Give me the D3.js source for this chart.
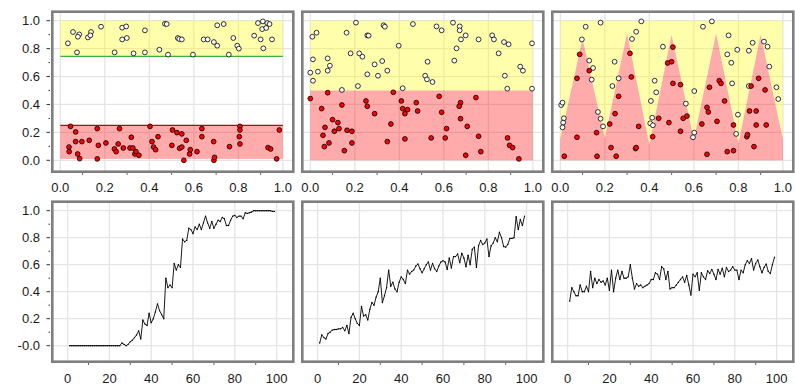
<!DOCTYPE html>
<html>
<head>
<meta charset="utf-8">
<script src="https://cdn.jsdelivr.net/npm/d3@7"></script>
<style>
  body { margin: 0; background: #fff; }
  text { font-family: "Liberation Sans", Arial, sans-serif; font-size: 13px; fill: #1a1a1a; }
</style>
</head>
<body>
<svg id="chart" width="795" height="387"></svg>
<script>
// ---- data ----
const topTicks = [0, 0.2, 0.4, 0.6, 0.8, 1.0];
const topTickLabels = ['0.0', '0.2', '0.4', '0.6', '0.8', '1.0'];
const bottomXTicks = [0, 20, 40, 60, 80, 100];
const bottomXLabels = ['0', '20', '40', '60', '80', '100'];
const yTicks = [0, 0.2, 0.4, 0.6, 0.8, 1.0];
const topYLabels = ['0.0', '0.2', '0.4', '0.6', '0.8', '1.0'];
const bottomYLabels = ['-0.0', '0.2', '0.4', '0.6', '0.8', '1.0'];

// panel 1: two separated clusters
const white1 = [[0.034,0.838],[0.057,0.919],[0.085,0.902],[0.079,0.885],[0.075,0.773],[0.124,0.88],[0.138,0.919],[0.135,0.895],[0.183,0.957],[0.244,0.773],[0.278,0.95],[0.296,0.959],[0.278,0.866],[0.299,0.876],[0.329,0.766],[0.38,0.931],[0.38,0.773],[0.445,0.792],[0.47,0.978],[0.478,0.976],[0.484,0.757],[0.528,0.876],[0.534,0.869],[0.546,0.866],[0.596,0.757],[0.644,0.866],[0.662,0.866],[0.69,0.847],[0.705,0.821],[0.705,0.967],[0.734,0.976],[0.777,0.876],[0.757,0.757],[0.795,0.821],[0.802,0.8],[0.871,0.893],[0.888,0.983],[0.91,0.995],[0.93,0.983],[0.94,0.976],[0.907,0.94],[0.925,0.948],[0.9,0.866],[0.912,0.802],[0.951,0.866]];
const red1 = [[0.046,0.243],[0.039,0.095],[0.04,0.062],[0.069,0.203],[0.069,0.134],[0.078,0.045],[0.087,0.012],[0.097,0.134],[0.13,0.143],[0.166,0.227],[0.171,0.107],[0.166,0.01],[0.205,0.124],[0.243,0.081],[0.251,0.062],[0.26,0.117],[0.266,0.227],[0.283,0.088],[0.313,0.088],[0.326,0.088],[0.319,0.165],[0.335,0.045],[0.34,0.062],[0.353,0.036],[0.403,0.243],[0.412,0.134],[0.419,0.095],[0.428,0.076],[0.439,0.169],[0.501,0.107],[0.504,0.217],[0.524,0.198],[0.536,0.086],[0.546,0.189],[0.546,0.095],[0.566,0.143],[0.555,0.0],[0.581,0.045],[0.584,0.076],[0.614,0.062],[0.636,0.227],[0.636,0.169],[0.689,0.134],[0.69,0.0],[0.693,0.021],[0.76,0.098],[0.807,0.243],[0.807,0.217],[0.804,0.169],[0.807,0.117],[0.972,0.01],[0.933,0.091],[0.945,0.081],[0.984,0.217]];
const yellowBand1 = [0.745, 1.0];
const redBand1 = [0.01, 0.25];
const greenLine1 = 0.745;
const darkRedLine1 = 0.25;

// panel 2: split at 0.5
const white2 = [[0.009,0.885],[0.028,0.914],[0.012,0.723],[0.0,0.628],[0.034,0.635],[0.012,0.57],[0.078,0.73],[0.088,0.678],[0.078,0.642],[0.142,0.504],[0.163,0.914],[0.205,0.986],[0.181,0.766],[0.22,0.766],[0.234,0.742],[0.214,0.532],[0.256,0.895],[0.262,0.893],[0.256,0.616],[0.289,0.687],[0.304,0.606],[0.323,0.711],[0.329,0.967],[0.335,0.957],[0.346,0.642],[0.397,0.821],[0.415,0.516],[0.461,0.976],[0.527,0.706],[0.516,0.606],[0.524,0.58],[0.549,0.561],[0.567,0.959],[0.59,0.931],[0.641,0.986],[0.671,0.959],[0.671,0.931],[0.677,0.866],[0.698,0.895],[0.657,0.802],[0.647,0.714],[0.756,0.866],[0.817,0.895],[0.825,0.866],[0.846,0.766],[0.87,0.847],[0.891,0.831],[0.874,0.606],[0.885,0.513],[0.943,0.671],[0.955,0.642],[0.996,0.838],[0.996,0.513]];
const red2 = [[0.0,0.442],[0.078,0.484],[0.051,0.37],[0.1,0.291],[0.124,0.27],[0.108,0.208],[0.129,0.227],[0.066,0.236],[0.057,0.179],[0.063,0.098],[0.084,0.124],[0.142,0.396],[0.153,0.069],[0.165,0.215],[0.187,0.208],[0.187,0.124],[0.25,0.425],[0.256,0.387],[0.289,0.334],[0.346,0.134],[0.362,0.26],[0.373,0.487],[0.409,0.425],[0.415,0.37],[0.437,0.363],[0.425,0.334],[0.425,0.153],[0.476,0.413],[0.482,0.353],[0.543,0.16],[0.579,0.458],[0.59,0.344],[0.612,0.227],[0.606,0.16],[0.675,0.413],[0.669,0.387],[0.675,0.298],[0.705,0.243],[0.698,0.036],[0.744,0.449],[0.756,0.172],[0.766,0.062],[0.886,0.16],[0.895,0.107],[0.909,0.091],[0.937,0.01]];
const yellowBand2 = [0.5, 1.0];
const redBand2 = [0.0, 0.5];

// panel 3: zig-zag boundary
const white3 = [[0.004,0.396],[0.01,0.413],[0.016,0.301],[0.013,0.27],[0.01,0.236],[0.097,0.866],[0.114,0.957],[0.13,0.714],[0.147,0.661],[0.141,0.578],[0.169,0.346],[0.181,0.298],[0.192,0.243],[0.181,0.986],[0.244,0.706],[0.262,0.587],[0.234,0.532],[0.322,0.869],[0.341,0.921],[0.364,0.995],[0.407,0.425],[0.413,0.305],[0.404,0.265],[0.416,0.251],[0.424,0.57],[0.431,0.487],[0.461,0.814],[0.564,0.406],[0.602,0.496],[0.602,0.198],[0.596,0.165],[0.641,0.957],[0.681,0.995],[0.756,0.895],[0.75,0.759],[0.768,0.699],[0.772,0.551],[0.795,0.792],[0.798,0.327],[0.79,0.189],[0.847,0.785],[0.864,0.842],[0.847,0.532],[0.915,0.85],[0.931,0.814],[0.939,0.671],[0.971,0.523],[0.979,0.439]];
const red3 = [[0.018,0.029],[0.075,0.165],[0.075,0.587],[0.087,0.759],[0.13,0.642],[0.163,0.198],[0.165,0.029],[0.222,0.26],[0.228,0.091],[0.251,0.029],[0.246,0.334],[0.262,0.458],[0.313,0.766],[0.319,0.597],[0.352,0.243],[0.338,0.084],[0.341,0.091],[0.415,0.169],[0.442,0.301],[0.482,0.697],[0.5,0.706],[0.506,0.811],[0.506,0.551],[0.488,0.27],[0.54,0.542],[0.54,0.208],[0.552,0.301],[0.569,0.317],[0.636,0.26],[0.659,0.379],[0.665,0.346],[0.659,0.043],[0.67,0.523],[0.704,0.279],[0.714,0.57],[0.722,0.551],[0.738,0.425],[0.75,0.062],[0.778,0.253],[0.778,0.069],[0.838,0.169],[0.841,0.184],[0.85,0.353],[0.857,0.532],[0.87,0.098],[0.88,0.353],[0.88,0.253],[0.891,0.587],[0.92,0.504],[0.925,0.253]];
const zigX = [0, 0.1, 0.2, 0.3, 0.4, 0.5, 0.6, 0.7, 0.8, 0.9, 1.0];
const zigY = [0.15, 0.87, 0.16, 0.91, 0.11, 0.9, 0.15, 0.91, 0.12, 0.9, 0.15];

// bottom row: curves, x = 1..99
const curveX = d3.range(1, 100);
const curve1 = [0,0,0,0,0,0,0,0,0,0,0,0,0,0,0,0,0,0,0,0,0,0,0,0,0,
  0.02,0.01,0.0,0.01,0.03,0.04,0.06,0.08,0.11,0.05,0.19,0.16,0.15,0.24,0.17,
  0.2,0.25,0.31,0.26,0.23,0.2,0.5,0.43,0.45,0.43,0.61,0.56,0.6,0.58,0.79,
  0.77,0.78,0.87,0.86,0.83,0.88,0.86,0.9,0.86,0.91,0.96,0.91,0.87,0.92,0.87,
  0.9,0.93,0.92,0.95,0.94,0.89,0.89,0.93,0.96,0.965,0.95,0.96,0.96,0.94,0.985,
  0.98,0.985,0.99,1.0,1.0,1.0,1.0,1.0,1.0,1.0,1.0,1.0,0.995,0.995];
const curve2 = [0.02,0.08,0.06,0.05,0.09,0.1,0.115,0.12,0.12,0.125,
  0.125,0.135,0.11,0.15,0.09,0.21,0.24,0.2,0.165,0.15,
  0.29,0.22,0.23,0.19,0.27,0.32,0.3,0.36,0.4,0.5,
  0.32,0.37,0.43,0.56,0.44,0.47,0.42,0.4,0.47,0.51,
  0.49,0.46,0.56,0.53,0.55,0.56,0.59,0.605,0.57,0.54,
  0.57,0.6,0.62,0.56,0.61,0.57,0.55,0.59,0.62,0.63,
  0.62,0.565,0.65,0.575,0.66,0.66,0.68,0.615,0.685,0.65,
  0.585,0.67,0.6,0.715,0.73,0.58,0.74,0.78,0.75,0.76,
  0.79,0.66,0.74,0.76,0.8,0.77,0.84,0.8,0.735,0.73,
  0.75,0.795,0.795,0.8,0.955,0.86,0.935,0.89,0.96];
const curve3 = [0.33,0.43,0.4,0.37,0.37,0.45,0.4,0.4,0.44,0.4,
  0.55,0.43,0.5,0.46,0.49,0.47,0.48,0.45,0.5,0.41,
  0.56,0.4,0.5,0.56,0.49,0.55,0.5,0.5,0.51,0.6,
  0.5,0.42,0.46,0.44,0.45,0.43,0.44,0.45,0.46,0.49,
  0.49,0.54,0.53,0.49,0.585,0.57,0.49,0.55,0.42,0.43,
  0.43,0.45,0.47,0.49,0.51,0.47,0.52,0.45,0.375,0.53,
  0.51,0.54,0.41,0.54,0.51,0.49,0.555,0.535,0.565,0.53,
  0.49,0.565,0.53,0.575,0.51,0.58,0.55,0.56,0.585,0.56,
  0.56,0.49,0.56,0.54,0.6,0.63,0.61,0.645,0.56,0.61,
  0.635,0.585,0.54,0.58,0.605,0.55,0.535,0.6,0.655];

// ---- layout ----
const colLeft = [52.3, 302.3, 552.3];
const panelW = 241;
const rowTop = [11.7, 201.7];
const panelH = 160;

const svg = d3.select('#chart');
const gridColor = '#e5e5e5';
const frameColor = '#7f7f7f';

function makePanel(row, col) {
  const left = colLeft[col], top = rowTop[row];
  const x = row === 0
    ? d3.scaleLinear().domain([0, 1]).range([left + 8, left + 230.6])
    : d3.scaleLinear().domain([0, 100]).range([left + 15.3, left + 224.3]);
  const y = row === 0
    ? d3.scaleLinear().domain([0, 1]).range([top + 148.6, top + 9])
    : d3.scaleLinear().domain([0, 1]).range([top + 144, top + 9]);
  const g = svg.append('g');
  g.append('defs').append('clipPath').attr('id', `clip-${row}-${col}`)
    .append('rect').attr('x', left).attr('y', top).attr('width', panelW).attr('height', panelH);
  const body = g.append('g').attr('clip-path', `url(#clip-${row}-${col})`);
  const grid = body.append('g');
  const xt = row === 0 ? topTicks : bottomXTicks;
  grid.selectAll('.vx').data(xt).enter().append('line')
    .attr('x1', d => x(d)).attr('x2', d => x(d)).attr('y1', top).attr('y2', top + panelH)
    .attr('stroke', gridColor).attr('stroke-width', 1.3);
  grid.selectAll('.hy').data(yTicks).enter().append('line')
    .attr('y1', d => y(d)).attr('y2', d => y(d)).attr('x1', left).attr('x2', left + panelW)
    .attr('stroke', gridColor).attr('stroke-width', 1.3);

  // x tick labels
  g.selectAll('.xl').data(xt).enter().append('text')
    .attr('x', d => x(d)).attr('y', row === 0 ? 187 : 378).attr('dy', '0.35em')
    .attr('text-anchor', 'middle')
    .text((d, i) => row === 0 ? topTickLabels[i] : bottomXLabels[i]);
  // minor x ticks
  const minorX = row === 0 ? [0.1, 0.3, 0.5, 0.7, 0.9] : [10, 30, 50, 70, 90];
  g.selectAll('.mx').data(minorX).enter().append('line')
    .attr('x1', d => x(d)).attr('x2', d => x(d))
    .attr('y1', top + panelH + 1.5).attr('y2', top + panelH + 3)
    .attr('stroke', '#333').attr('stroke-width', 1);

  if (col === 0) {
    g.selectAll('.yl').data(yTicks).enter().append('text')
      .attr('x', 40).attr('y', d => y(d)).attr('dy', '0.35em')
      .attr('text-anchor', 'end')
      .text((d, i) => row === 0 ? topYLabels[i] : bottomYLabels[i]);
    g.selectAll('.yt').data(yTicks).enter().append('line')
      .attr('x1', 46.5).attr('x2', 50).attr('y1', d => y(d)).attr('y2', d => y(d))
      .attr('stroke', '#333').attr('stroke-width', 1);
    g.selectAll('.ym').data([0.1, 0.3, 0.5, 0.7, 0.9]).enter().append('line')
      .attr('x1', 48.5).attr('x2', 50).attr('y1', d => y(d)).attr('y2', d => y(d))
      .attr('stroke', '#333').attr('stroke-width', 1);
  }
  return { g, body, x, y, left, top };
}

function band(p, lo, hi, color) {
  p.body.append('rect')
    .attr('x', p.x(0)).attr('width', p.x(1) - p.x(0))
    .attr('y', p.y(hi)).attr('height', p.y(lo) - p.y(hi))
    .attr('fill', color).attr('fill-opacity', 0.33);
}

function hline(p, v, color) {
  p.body.append('line')
    .attr('x1', p.x(0)).attr('x2', p.x(1)).attr('y1', p.y(v)).attr('y2', p.y(v))
    .attr('stroke', color).attr('stroke-width', 1.3);
}

function dots(p, pts, fill) {
  p.body.append('g').selectAll('circle').data(pts).enter().append('circle')
    .attr('cx', d => p.x(d[0])).attr('cy', d => p.y(d[1])).attr('r', 2.4)
    .attr('fill', fill).attr('stroke', '#000').attr('stroke-width', 0.8);
}

function frame(p) {
  p.g.append('rect').attr('x', p.left).attr('y', p.top).attr('width', panelW).attr('height', panelH)
    .attr('fill', 'none').attr('stroke', frameColor).attr('stroke-width', 2.6);
}

// top row
const p1 = makePanel(0, 0);
band(p1, yellowBand1[0], yellowBand1[1], '#ffff00');
band(p1, redBand1[0], redBand1[1], '#ff0000');
hline(p1, greenLine1, '#3cae3c');
hline(p1, darkRedLine1, '#8b1a1a');
dots(p1, white1, '#fff');
dots(p1, red1, '#ff0000');
frame(p1);

const p2 = makePanel(0, 1);
band(p2, yellowBand2[0], yellowBand2[1], '#ffff00');
band(p2, redBand2[0], redBand2[1], '#ff0000');
dots(p2, white2, '#fff');
dots(p2, red2, '#ff0000');
frame(p2);

const p3 = makePanel(0, 2);
const zig = zigX.map((v, i) => [v, zigY[i]]);
p3.body.append('path').datum(zig)
  .attr('d', d3.area().x(d => p3.x(d[0])).y0(p3.y(1)).y1(d => p3.y(d[1])))
  .attr('fill', '#ffff00').attr('fill-opacity', 0.33);
p3.body.append('path').datum(zig)
  .attr('d', d3.area().x(d => p3.x(d[0])).y0(p3.y(0)).y1(d => p3.y(d[1])))
  .attr('fill', '#ff0000').attr('fill-opacity', 0.33);
dots(p3, white3, '#fff');
dots(p3, red3, '#ff0000');
frame(p3);

// bottom row
[curve1, curve2, curve3].forEach((vals, col) => {
  const p = makePanel(1, col);
  const pts = curveX.map((v, i) => [v, vals[i]]);
  p.body.append('path').datum(pts)
    .attr('d', d3.line().x(d => p.x(d[0])).y(d => p.y(d[1])))
    .attr('fill', 'none').attr('stroke', '#000').attr('stroke-width', 0.9);
  p.body.append('g').selectAll('circle').data(pts).enter().append('circle')
    .attr('cx', d => p.x(d[0])).attr('cy', d => p.y(d[1])).attr('r', 0.7).attr('fill', '#000');
  frame(p);
});
</script>
</body>
</html>
